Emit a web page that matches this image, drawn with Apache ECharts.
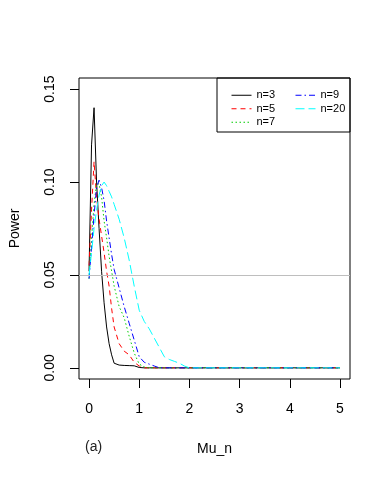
<!DOCTYPE html>
<html>
<head>
    <meta charset="UTF-8">
    <title>Power vs Mu_n</title>
    <style>
        html, body {
            height: 100%;
            margin: 0;
            padding: 0;
            background: #fff;
        }
        #chart-container {
            width: 391px;
            height: 477px;
        }
    </style>
</head>
<body>
<div id="chart-container"></div>

<script src="https://cdn.jsdelivr.net/npm/echarts@6/dist/echarts.min.js"></script>
<script>
    // grille des Mu_n
    const muN = [0, 0.05, 0.1, 0.15, 0.2, 0.25, 0.3, 0.35, 0.4, 0.45, 0.5, 0.6, 0.7, 0.8, 0.9, 1.0,
        1.1, 1.2, 1.3, 1.4, 1.5, 1.6, 1.7, 1.8, 1.9, 2.0, 2.5, 3, 3.5, 4, 4.5, 5];

    // puissance, une liste par n
    const powerN3 = [0.052, 0.12, 0.14, 0.10, 0.075, 0.052, 0.035, 0.022, 0.013, 0.007, 0.0025, 0.0015, 0.0013, 0.0012, 0.0011, 0.0002,
        0, 0, 0, 0, 0, 0, 0, 0, 0, 0, 0, 0, 0, 0, 0, 0];
    const powerN5 = [0.055, 0.085, 0.111, 0.092, 0.08, 0.071, 0.062, 0.052, 0.044, 0.032, 0.022, 0.013, 0.009, 0.007, 0.003, 0.001,
        0, 0, 0, 0, 0, 0, 0, 0, 0, 0, 0, 0, 0, 0, 0, 0];
    const powerN7 = [0.048, 0.07, 0.088, 0.099, 0.099, 0.092, 0.079, 0.07, 0.06, 0.052, 0.044, 0.033, 0.027, 0.017, 0.008, 0.002,
        0.0005, 0, 0, 0, 0, 0, 0, 0, 0, 0, 0, 0, 0, 0, 0, 0];
    const powerN9 = [0.048, 0.065, 0.082, 0.097, 0.101, 0.097, 0.09, 0.079, 0.07, 0.061, 0.053, 0.043, 0.033, 0.024, 0.015, 0.006,
        0.003, 0.002, 0.001, 0, 0, 0, 0, 0, 0, 0, 0, 0, 0, 0, 0, 0];
    const powerN20 = [0.05, 0.062, 0.075, 0.085, 0.093, 0.098, 0.1, 0.098, 0.095, 0.092, 0.088, 0.08, 0.07, 0.058, 0.044, 0.031,
        0.025, 0.021, 0.016, 0.011, 0.006, 0.0045, 0.0035, 0.0025, 0.001, 0, 0, 0, 0, 0, 0, 0];

    const xTicks = [0, 1, 2, 3, 4, 5];
    const yTicks = [0, 0.05, 0.10, 0.15];
    const alphaLevel = 0.05;

    const FONT = "'Liberation Sans', Arial, sans-serif";

    function pairs(ys) {
        return muN.map(function (x, i) { return [x, ys[i]]; });
    }

    function lineSeries(name, ys, color, dash) {
        return {
            name: name,
            type: 'line',
            data: pairs(ys),
            symbol: 'none',
            silent: true,
            lineStyle: { color: color, width: 1, type: dash },
            itemStyle: { color: color }
        };
    }

    const chart = echarts.init(document.getElementById('chart-container'));

    const series = [
        lineSeries('n=3', powerN3, '#000000', 'solid'),
        lineSeries('n=5', powerN5, '#FF0000', [5, 4]),
        lineSeries('n=7', powerN7, '#00CD00', [1.5, 2.5]),
        lineSeries('n=9', powerN9, '#0000FF', [6, 3, 1.5, 3]),
        lineSeries('n=20', powerN20, '#00FFFF', [9, 4])
    ];
    // ligne horizontale au niveau alpha
    series[0].markLine = {
        silent: true,
        symbol: 'none',
        label: { show: false },
        lineStyle: { color: '#BEBEBE', width: 1, type: 'solid' },
        data: [{ yAxis: alphaLevel }]
    };

    const legendBase = {
        orient: 'vertical',
        top: 84,
        itemWidth: 20,
        itemHeight: 10,
        itemGap: 1,
        selectedMode: false,
        itemStyle: { opacity: 0 },
        lineStyle: { width: 1 },
        textStyle: { fontFamily: FONT, fontSize: 11, color: '#000', lineHeight: 12.5 }
    };

    const option = {
        animation: false,
        grid: {
            left: 78, top: 78, right: 41, bottom: 98,
            show: true, borderColor: '#000', borderWidth: 1,
            backgroundColor: 'transparent'
        },
        legend: [
            Object.assign({}, legendBase, { left: 226, data: ['n=3', 'n=5', 'n=7'] }),
            Object.assign({}, legendBase, { left: 290, data: ['n=9', 'n=20'] })
        ],
        xAxis: {
            type: 'value',
            min: -0.2,
            max: 5.2,
            name: 'Mu_n',
            nameLocation: 'middle',
            nameGap: 63,
            nameTextStyle: { fontFamily: FONT, fontSize: 14, color: '#000' },
            axisLine: { show: false, onZero: false },
            splitLine: { show: false },
            axisTick: { show: true, length: 9, customValues: xTicks, lineStyle: { color: '#000' } },
            axisLabel: {
                customValues: xTicks,
                margin: 23,
                fontFamily: FONT, fontSize: 14, color: '#000'
            }
        },
        yAxis: {
            type: 'value',
            min: -0.006,
            max: 0.156,
            name: 'Power',
            nameLocation: 'middle',
            nameGap: 57,
            nameRotate: 90,
            nameTextStyle: { fontFamily: FONT, fontSize: 14, color: '#000' },
            axisLine: { show: false, onZero: false },
            splitLine: { show: false },
            axisTick: { show: true, length: 9, customValues: yTicks, lineStyle: { color: '#000' } },
            axisLabel: {
                customValues: yTicks,
                rotate: 90,
                margin: 22,
                fontFamily: FONT, fontSize: 14, color: '#000',
                formatter: function (v) { return v.toFixed(2); }
            }
        },
        graphic: [
            {
                type: 'rect',
                shape: { x: 217, y: 78, width: 133, height: 54 },
                style: { fill: 'none', stroke: '#000', lineWidth: 1 },
                z: 100
            },
            {
                type: 'text',
                left: 85,
                top: 440,
                style: { text: '(a)', fontFamily: FONT, fontSize: 14, fill: '#222' }
            }
        ],
        series: series
    };

    chart.setOption(option);
</script>
</body>
</html>
